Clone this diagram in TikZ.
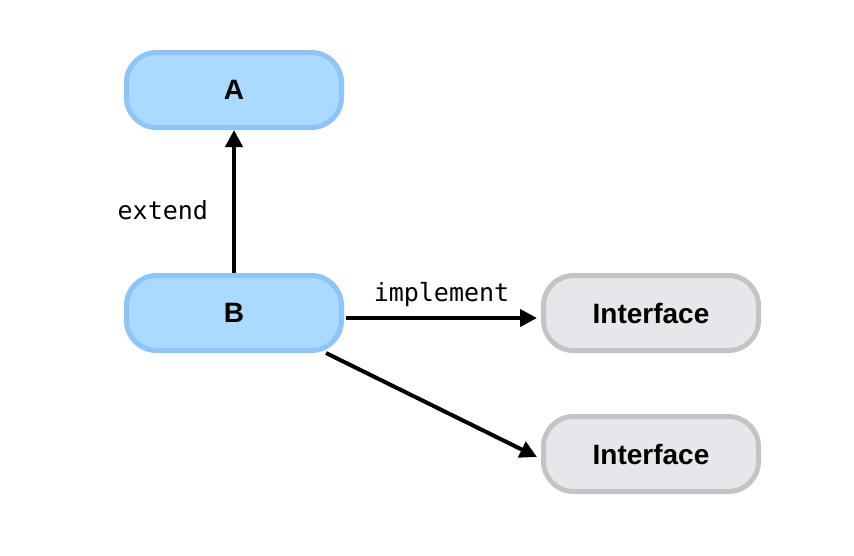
\documentclass[tikz,border=0pt]{standalone}
\usepackage{fontspec}
\setmainfont{Liberation Sans}
\setmonofont{DejaVu Sans Mono}
\usepackage{xcolor}
\usetikzlibrary{arrows.meta,positioning}
\definecolor{clsfill}{RGB}{170,218,255}
\definecolor{clsdraw}{RGB}{142,197,248}
\definecolor{iffill}{RGB}{230,231,235}
\definecolor{ifdraw}{RGB}{196,196,198}

\begin{document}
\begin{tikzpicture}[x=1pt, y=-1pt,
  box/.style={draw=clsdraw, fill=clsfill, line width=5pt, rounded corners=30pt, minimum width=215pt, minimum height=75pt, font=\fontsize{28}{30}\selectfont\bfseries},
  iface/.style={box, draw=ifdraw, fill=iffill},
  lbl/.style={inner sep=0pt, font=\fontsize{25}{28}\selectfont\ttfamily},
  arr/.style={-{Triangle[length=17pt,width=17pt]}, line width=4pt}]
\useasboundingbox (0,0) rectangle (854,555);
\node[box] (a) at (234,90) {A};
\node[box, below=143pt of a] (b) {B};
\node[iface, right=197pt of b] (i1) {Interface};
\node[iface, below=61pt of i1] (i2) {Interface};
\draw[arr] (b.north) -- (a.south) node[lbl, pos=0.44, left=24pt] {extend};
\draw[arr] ([xshift=2pt,yshift=-5pt]b.east) -- ([xshift=-4pt,yshift=-5pt]i1.west) node[lbl, midway, above=9pt] {implement};
\draw[arr] ([xshift=-18pt]b.south east) -- ([xshift=-4pt,yshift=-3pt]i2.west);
\end{tikzpicture}
\end{document}
